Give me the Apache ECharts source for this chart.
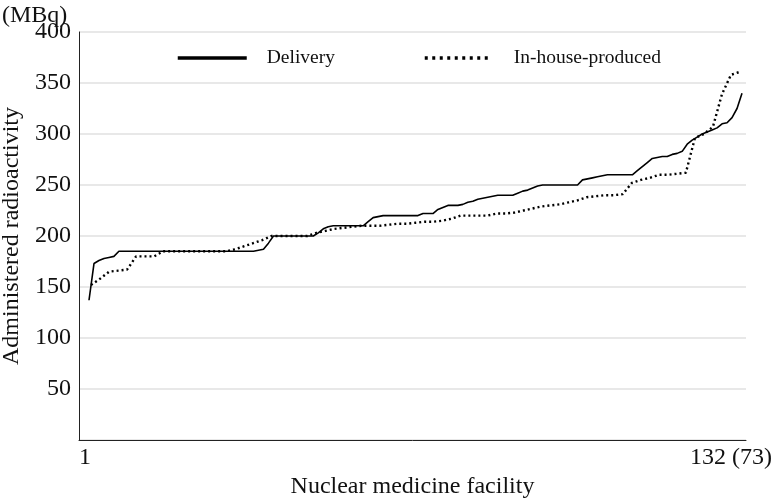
<!DOCTYPE html>
<html>
<head>
<meta charset="utf-8">
<script src="https://cdn.jsdelivr.net/npm/echarts@6/dist/echarts.min.js"></script>
<style>html,body{margin:0;padding:0;background:#fff}#c{width:772px;height:499px}</style>
</head>
<body>
<div id="c"></div>
<script>
// Delivery: 132 facilities, sorted administered radioactivity (MBq)
const deliveryValues = [
  137,173,176,178,179,180,
  185,185,185,185,185,185,185,185,185,185,185,185,185,185,185,185,185,185,185,185,185,185,185,185,185,185,185,185,
  186,187,193,
  200,200,200,200,200,200,200,200,200,
  203,207,209,
  210,210,210,210,210,210,210,
  214,218,219,
  220,220,220,220,220,220,220,220,
  222,222,222,226,228,230,230,230,231,233,234,236,237,238,239,
  240,240,240,240,242,244,245,247,249,
  250,250,250,250,250,250,250,250,
  255,256,257,258,259,
  260,260,260,260,260,260,
  264,268,272,276,277,278,278,280,281,283,290,294,297,300,302,304,306,310,311,316,325,340
];
// In-house-produced: 73 facilities
const inhouseValues = [
  152,158,165,166,167,180,180,180,
  185,185,185,185,185,185,185,185,
  187,190,193,196,
  200,200,200,200,200,
  203,205,207,208,209,210,210,210,211,212,212,213,214,214,215,217,
  220,220,220,220,222,222,223,225,227,229,230,231,233,235,238,239,240,240,241,
  252,255,257,260,260,261,262,296,300,307,339,358,361
];
const yTicks = [50,100,150,200,250,300,350,400];
const xTickValues = [1, 132];
const xTickLabels = ['1', '132 (73)'];
const seriesNames = ['Delivery', 'In-house-produced'];

const delivery = deliveryValues.map((v, i) => [i + 1, v]);
const inhouse = inhouseValues.map((v, i) => [i + 1, v]);

const FONT = '"Liberation Serif", "DejaVu Serif", serif';
const noSymbol = {color: 'rgba(0,0,0,0)', borderColor: 'rgba(0,0,0,0)', borderWidth: 0};
const chart = echarts.init(document.getElementById('c'), null, {renderer: 'canvas'});
chart.setOption({
  backgroundColor: '#fff',
  animation: false,
  title: {
    text: '(MBq)', left: -3, top: -1,
    textStyle: {fontFamily: FONT, fontSize: 24, fontWeight: 'normal', color: '#111'}
  },
  legend: [
    {
      left: 176, top: 48, padding: 0, itemWidth: 69, itemHeight: 10,
      textStyle: {fontFamily: FONT, fontSize: 19.5, color: '#111', padding: [0, 0, 0, 15]},
      data: [{name: seriesNames[0], itemStyle: noSymbol, lineStyle: {width: 3.5, color: '#000', type: 'solid'}}]
    },
    {
      left: 423, top: 48, padding: 0, itemWidth: 67, itemHeight: 10,
      textStyle: {fontFamily: FONT, fontSize: 19.5, color: '#111', padding: [0, 0, 0, 17]},
      data: [{name: seriesNames[1], itemStyle: noSymbol, lineStyle: {width: 3.5, color: '#000', type: [3, 4.5]}}]
    }
  ],
  grid: {left: 79, right: 26, top: 32, bottom: 59, outerBoundsMode: 'none', containLabel: false},
  xAxis: [
    {
      type: 'value', min: -1.006, max: 132.8,
      name: 'Nuclear medicine facility', nameLocation: 'middle', nameGap: 35,
      nameTextStyle: {fontFamily: FONT, fontSize: 24, color: '#111'},
      axisLine: {show: true, onZero: false, lineStyle: {color: '#222', width: 1}},
      axisTick: {show: false},
      splitLine: {show: false},
      axisLabel: {
        customValues: xTickValues,
        fontFamily: FONT, fontSize: 24, color: '#111', margin: 6,
        formatter: v => v === 132 ? '{r|' + xTickLabels[1] + '}' : (v === 1 ? '{l|' + xTickLabels[0] + '}' : ''),
        alignMaxLabel: 'right',
        rich: {
          r: {fontFamily: FONT, fontSize: 24, color: '#111', padding: [0, -30, 0, 0]},
          l: {fontFamily: FONT, fontSize: 24, color: '#111', padding: [0, 8, 0, 0]}
        }
      }
    },
    {
      type: 'value', min: -0.331, max: 73.67, show: false,
      gridIndex: 0, position: 'bottom'
    }
  ],
  yAxis: {
    type: 'value', min: 0, max: 400, interval: 50,
    name: 'Administered radioactivity', nameLocation: 'middle', nameGap: 51,
    nameTextStyle: {fontFamily: FONT, fontSize: 24, color: '#111'},
    axisLine: {show: true, onZero: false, lineStyle: {color: '#222', width: 1}},
    axisTick: {show: false},
    splitLine: {show: true, lineStyle: {color: '#e0e0e0', width: 1.5}},
    axisLabel: {
      fontFamily: FONT, fontSize: 24, color: '#111', margin: 8,
      formatter: v => (yTicks.indexOf(v) >= 0 ? String(v) : '')
    }
  },
  series: [
    {
      name: seriesNames[0], type: 'line', xAxisIndex: 0, data: delivery,
      symbol: 'none', smooth: false,
      lineStyle: {color: '#000', width: 1.6, type: 'solid'},
      itemStyle: {color: '#000'}
    },
    {
      name: seriesNames[1], type: 'line', xAxisIndex: 1, data: inhouse,
      symbol: 'none', smooth: false,
      lineStyle: {color: '#000', width: 2.4, type: [2, 3]},
      itemStyle: {color: '#000'}
    }
  ]
});
</script>
</body>
</html>
